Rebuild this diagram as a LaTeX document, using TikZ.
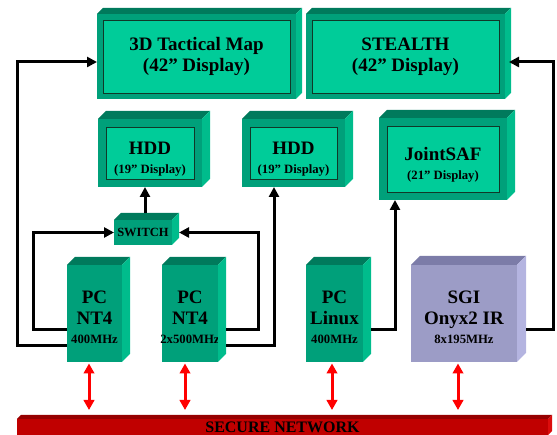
\documentclass[tikz,border=0pt]{standalone}
\usepackage{fontspec}
\setmainfont{Liberation Serif}
\usetikzlibrary{arrows.meta,positioning}
\definecolor{PanelGreen}{HTML}{00A07A}
\definecolor{PanelTop}{HTML}{007A5C}
\definecolor{PanelSide}{HTML}{00BC8C}
\definecolor{ScreenGreen}{HTML}{00CC99}
\definecolor{ScreenEdge}{HTML}{103828}
\definecolor{SgiFront}{HTML}{9C9CC6}
\definecolor{SgiTop}{HTML}{7C7CA8}
\definecolor{SgiSide}{HTML}{B4B4E0}
\definecolor{NetRed}{HTML}{C00000}
\definecolor{NetTop}{HTML}{960000}
\definecolor{NetSide}{HTML}{DC0C0C}

% top and right faces behind a front panel node: node, depth, top colour, side colour
\newcommand{\extrude}[4]{%
  \fill[#3] (#1.north west) -- ++(#2,#2) -- ([shift={(#2,#2)}]#1.north east) -- (#1.north east) -- cycle;
  \fill[#4] (#1.north east) -- ++(#2,#2) -- ([shift={(#2,#2)}]#1.south east) -- (#1.south east) -- cycle;}
% smaller last line inside a panel
\newcommand{\subline}[1]{{\fontsize{12.7}{14}\selectfont\makebox[0pt]{#1}}}
% invisible strut on the first line, pushes the label block down
\newcommand{\headroom}[1]{\rule{0pt}{#1}}

\begin{document}
\begin{tikzpicture}[x=1pt,y=1pt,
  panel/.style={rectangle,fill=PanelGreen,inner sep=0pt,outer sep=0pt,align=center,font=\fontsize{19}{21}\selectfont\bfseries},
  monitor/.style={panel,path picture={\draw[fill=ScreenGreen,draw=ScreenEdge,line width=0.8pt] ([shift={(#1,-#1)}]path picture bounding box.north west) rectangle ([shift={(-#1,#1)}]path picture bounding box.south east);}},
  monitor/.default=8,
  link/.style={-{Triangle[length=10pt,width=10pt]},line width=3pt,draw=black},
  netlink/.style={{Triangle[length=10pt,width=10.5pt]}-{Triangle[length=10pt,width=10.5pt]},line width=3pt,draw=red,shorten <=1.5pt,shorten >=9pt}]
\useasboundingbox (0,0) rectangle (557,435);
\clip (0,0) rectangle (557,435);

% wall displays
\node[monitor=6,minimum width=199pt,minimum height=85pt] (map) at (196.5,378.5) {3D Tactical Map\\(42” Display)};
\extrude{map}{6}{PanelTop}{PanelSide}
\node[monitor=6,minimum width=199pt,minimum height=85pt] (stealth) at (405.5,378.5) {STEALTH\\(42” Display)};
\extrude{stealth}{6}{PanelTop}{PanelSide}

% desk monitors
\node[monitor,minimum width=104pt,minimum height=68pt] (hddA) at (150,282) {\headroom{24.6pt}HDD\\[-2pt]\subline{(19” Display)}};
\extrude{hddA}{8}{PanelTop}{PanelSide}
\node[monitor,minimum width=103pt,minimum height=68pt] (hddB) at (293.5,282) {\headroom{24.6pt}HDD\\[-2pt]\subline{(19” Display)}};
\extrude{hddB}{8}{PanelTop}{PanelSide}
\node[monitor,minimum width=128pt,minimum height=82pt] (jsaf) at (443,276) {\headroom{24.5pt}JointSAF\\[-2pt]\subline{(21” Display)}};
\extrude{jsaf}{8}{PanelTop}{PanelSide}

\node[panel,minimum width=58pt,minimum height=25pt,font=\fontsize{12.5}{14}\selectfont\bfseries] (sw) at (143,202.5) {SWITCH};
\extrude{sw}{7}{PanelTop}{PanelSide}

% machines
\node[panel,minimum width=55pt,minimum height=97pt] (pcA) at (94.5,121.5) {\headroom{19.6pt}PC\\NT4\\[-2pt]\subline{400MHz}};
\extrude{pcA}{8}{PanelTop}{PanelSide}
\node[panel,minimum width=56pt,minimum height=97pt] (pcB) at (190,121.5) {\headroom{19.6pt}PC\\NT4\\[-2pt]\subline{2x500MHz}};
\extrude{pcB}{8}{PanelTop}{PanelSide}
\node[panel,minimum width=57pt,minimum height=97pt] (pcL) at (334.5,121.5) {\headroom{19.6pt}PC\\Linux\\[-2pt]\subline{400MHz}};
\extrude{pcL}{8}{PanelTop}{PanelSide}
\node[panel,fill=SgiFront,minimum width=106pt,minimum height=97pt] (sgi) at (464,121.5) {\headroom{20.6pt}SGI\\Onyx2 IR\\[-2pt]\subline{8x195MHz}};
\extrude{sgi}{9}{SgiTop}{SgiSide}

\node[panel,fill=NetRed,minimum width=531pt,minimum height=16pt,font=\fontsize{16}{18}\selectfont\bfseries] (net) at (282.5,8) {SECURE NETWORK};
\extrude{net}{4}{NetTop}{NetSide}

% video cabling
\draw[link] ([yshift=-32.5pt]pcA.west) -- ++(-50,0) |- ([yshift=-5.5pt]map.west);
\draw[link] ([yshift=-16.5pt]pcA.west) -- ++(-34,0) |- (sw.west);
\draw[link] ([xshift=8pt,yshift=-16.5pt]pcB.east) -- ++(32,0) |- ([xshift=7pt]sw.east);
\draw[link] ([xshift=8pt,yshift=-32.5pt]pcB.east) -| ([xshift=-19.5pt]hddB.south);
\draw[link] ([xshift=2pt,yshift=7pt]sw.north) -- ([xshift=-5pt]hddA.south);
\draw[link] ([xshift=8pt,yshift=-16.5pt]pcL.east) -| ([xshift=-48pt]jsaf.south);
\draw[link] ([xshift=9pt,yshift=-16.5pt]sgi.east) -- ++(27,0) |- ([xshift=4pt,yshift=-5.5pt]stealth.east);

% network drops
\draw[netlink] ([xshift=-5.5pt]pcA.south) -- ([xshift=-5.5pt]pcA.south |- net.north);
\draw[netlink] ([xshift=-5pt]pcB.south) -- ([xshift=-5pt]pcB.south |- net.north);
\draw[netlink] ([xshift=-2.5pt]pcL.south) -- ([xshift=-2.5pt]pcL.south |- net.north);
\draw[netlink] ([xshift=-6pt]sgi.south) -- ([xshift=-6pt]sgi.south |- net.north);
\end{tikzpicture}
\end{document}
